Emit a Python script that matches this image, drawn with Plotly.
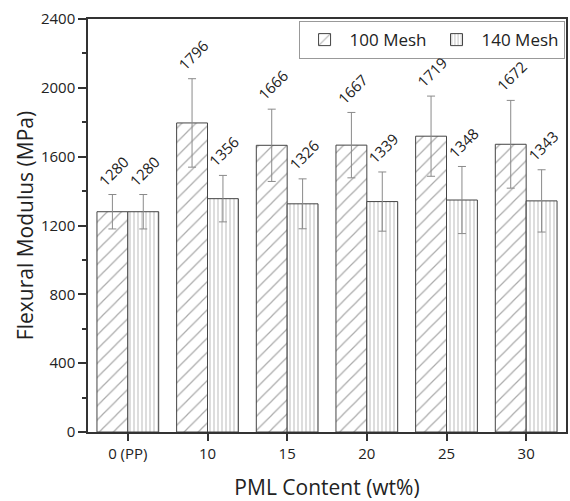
import plotly.graph_objects as go

categories = ["0 (PP)", "10", "15", "20", "25", "30"]
mesh100 = [1280, 1796, 1666, 1667, 1719, 1672]
mesh100_err = [100, 257, 210, 190, 233, 255]
mesh140 = [1280, 1356, 1326, 1339, 1348, 1343]
mesh140_err = [100, 135, 145, 172, 195, 181]
y_ticks = [0, 400, 800, 1200, 1600, 2000, 2400]

FONT = "Open Sans"
TXT = "#222222"
AX = "#333333"

fig = go.Figure()
fig.add_trace(go.Bar(
    name="100 Mesh", x=categories, y=mesh100,
    marker=dict(color="white", line=dict(color="#444444", width=1),
                pattern=dict(shape="/", fgcolor="#555555", bgcolor="white", size=10, solidity=0.12)),
    error_y=dict(type="data", array=mesh100_err, color="#8a8a8a", thickness=1, width=4),
))
fig.add_trace(go.Bar(
    name="140 Mesh", x=categories, y=mesh140,
    marker=dict(color="white", line=dict(color="#444444", width=1),
                pattern=dict(shape="|", fgcolor="#777777", bgcolor="white", size=4, solidity=0.25)),
    error_y=dict(type="data", array=mesh140_err, color="#8a8a8a", thickness=1, width=4),
))

annotations = []
for vals, errs, shift in [(mesh100, mesh100_err, -15.5), (mesh140, mesh140_err, 15.5)]:
    for i, (v, e) in enumerate(zip(vals, errs)):
        annotations.append(dict(
            x=i, y=v + e, xref="x", yref="y", text=str(v), showarrow=False,
            textangle=-45, xanchor="center", yanchor="bottom", xshift=shift + 1, yshift=2,
            font=dict(family=FONT, size=15, color=TXT),
        ))

fig.update_layout(
    width=570, height=501,
    margin=dict(l=88, r=2, t=19, b=69),
    paper_bgcolor="white", plot_bgcolor="white",
    barmode="group", bargap=0.225, bargroupgap=0,
    font=dict(family=FONT, size=15, color=TXT),
    showlegend=True,
    legend=dict(orientation="h", x=0.997, xanchor="right", y=0.995, yanchor="top",
                bgcolor="white", bordercolor="#999999", borderwidth=1,
                font=dict(family=FONT, size=17, color=TXT), itemwidth=40),
    annotations=annotations,
)
fig.update_xaxes(
    type="category",
    showline=True, linecolor=AX, linewidth=1.5, mirror=True,
    ticks="outside", ticklen=7, tickcolor=AX, tickwidth=1.5,
    tickfont=dict(family=FONT, size=15, color=TXT),
    title=dict(text="PML Content (wt%)", font=dict(family=FONT, size=21, color=TXT), standoff=20),
    range=[-0.5, 5.5],
)
fig.update_yaxes(
    range=[0, 2400], tickvals=y_ticks,
    showline=True, linecolor=AX, linewidth=1.5, mirror=True, showgrid=False, zeroline=False,
    ticks="outside", ticklen=8, tickcolor=AX, tickwidth=1.5,
    minor=dict(ticks="outside", ticklen=4, tickcolor=AX, dtick=200, tick0=0, showgrid=False),
    tickfont=dict(family=FONT, size=15, color=TXT),
    title=dict(text="Flexural Modulus (MPa)", font=dict(family=FONT, size=21, color=TXT), standoff=2),
)

fig.write_html("out.html")
